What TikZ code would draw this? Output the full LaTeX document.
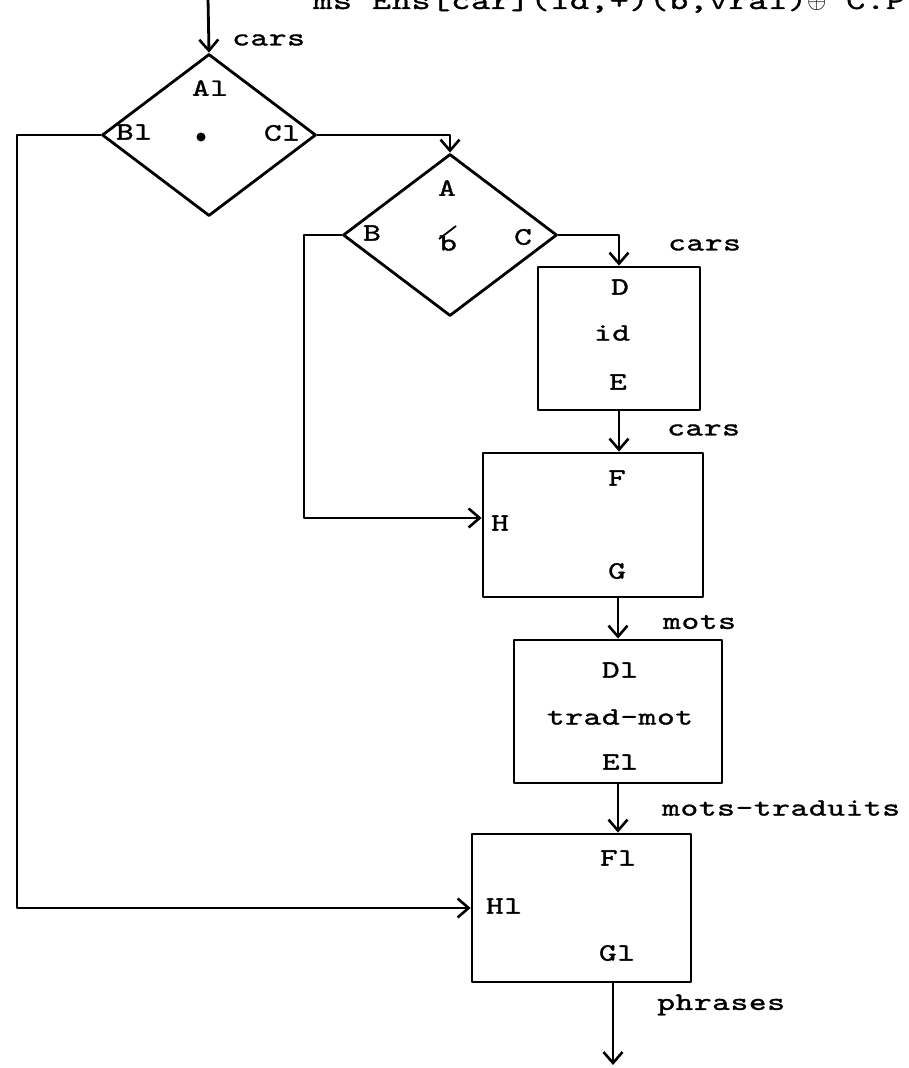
\documentclass[tikz,border=0pt]{standalone}
\usepackage{fontspec}
\usetikzlibrary{arrows.meta,shapes.geometric}
\newfontfamily\twfam{lmmono10-regular.otf}[FakeStretch=1.35, LetterSpace=2.5, FakeBold=1.3]
\newcommand\twfont{\twfam\fontsize{25}{30}\selectfont}
\newcommand\twhead{\twfam\fontsize{27}{32}\selectfont}
\tikzset{
  ln/.style={line width=2.8pt, line cap=round, line join=round},
  arr/.style={ln, -{Straight Barb[length=11pt,width=19pt,line width=2.6pt]}},
  box/.style={draw, ln, rectangle, inner sep=0pt},
  dia/.style={draw, ln, diamond, inner sep=0pt, minimum width=214pt, minimum height=162pt},
  lab/.style={font=\twfont, inner sep=0pt},
  flow/.style={lab, anchor=west},
}
\begin{document}
\begin{tikzpicture}[x=1pt,y=-1pt]
\useasboundingbox (0,0) rectangle (909,1068);
% cut-off heading
\node[lab, font=\twhead, anchor=base west] (head) at (313,9) {ms Ens[car](id,+)(b,vrai)$\oplus$ C.P};
% diamonds
\node[dia] (d1) at (209,135) {};
\node[dia] (d2) at (450,235) {};
% boxes
\node[box, minimum width=162pt, minimum height=143pt] (b1) at (619,338.5) {};
\node[box, minimum width=220pt, minimum height=144pt] (b2) at (593,525) {};
\node[box, minimum width=208pt, minimum height=143pt] (b3) at (618,711.5) {};
\node[box, minimum width=219pt, minimum height=148pt] (b4) at (581.5,908) {};
% labels inside diamonds
\node[lab] (A1) at (210,88) {Al};
\node[lab] (B1) at (134,132) {Bl};
\node[lab] (C1) at (282,133) {Cl};
\fill (201,137) circle (4.5pt);
\node[lab] (A) at (447,188) {A};
\node[lab] (B) at (372,233) {B};
\node[lab] (C) at (523,237) {C};
\node[lab] (bb) at (448,243) {b};
\draw[line width=1.8pt] (439,239) -- (456,226);
% labels inside boxes
\node[lab] (D) at (620,287) {D};
\node[lab] (id) at (612,333) {id};
\node[lab] (E) at (618,382) {E};
\node[lab] (F) at (617,478) {F};
\node[lab] (H) at (500,523) {H};
\node[lab] (G) at (617,571) {G};
\node[lab] (D1) at (620,670) {Dl};
\node[lab] (tm) at (620,717) {trad-mot};
\node[lab] (E1) at (620,762) {El};
\node[lab] (F1) at (618,858) {Fl};
\node[lab] (H1) at (504,906) {Hl};
\node[lab] (G1) at (617,953) {Gl};
% flow labels
\node[flow] (l0) at (232,40) {cars};
\node[flow] (l1) at (668,245) {cars};
\node[flow] (l2) at (667,430) {cars};
\node[flow] (l3) at (663,622) {mots};
\node[flow] (l4) at (662,808) {mots-traduits};
\node[flow] (l5) at (657,1005) {phrases};
% connectors
\coordinate (top) at (208,-2);
\coordinate (lp) at (17,0);
\coordinate (bp) at (304,0);
\coordinate (out) at (613,1065);
\draw[arr] (top) -- (d1.north);
\draw[arr] (d1.west) -- (d1.west -| lp) -- (lp |- b4.west) -- (b4.west);
\draw[arr] (d1.east) -| (d2.north);
\draw[arr] (d2.west) -- (d2.west -| bp) |- ([yshift=7pt]b2.west);
\draw[arr] (d2.east) -| (b1.north);
\draw[arr] (b1.south) -- (b1.south |- b2.north);
\draw[arr] (b3.north |- b2.south) -- (b3.north);
\draw[arr] (b3.south) -- (b3.south |- b4.north);
\draw[arr] (out |- b4.south) -- (out);
\end{tikzpicture}
\end{document}
